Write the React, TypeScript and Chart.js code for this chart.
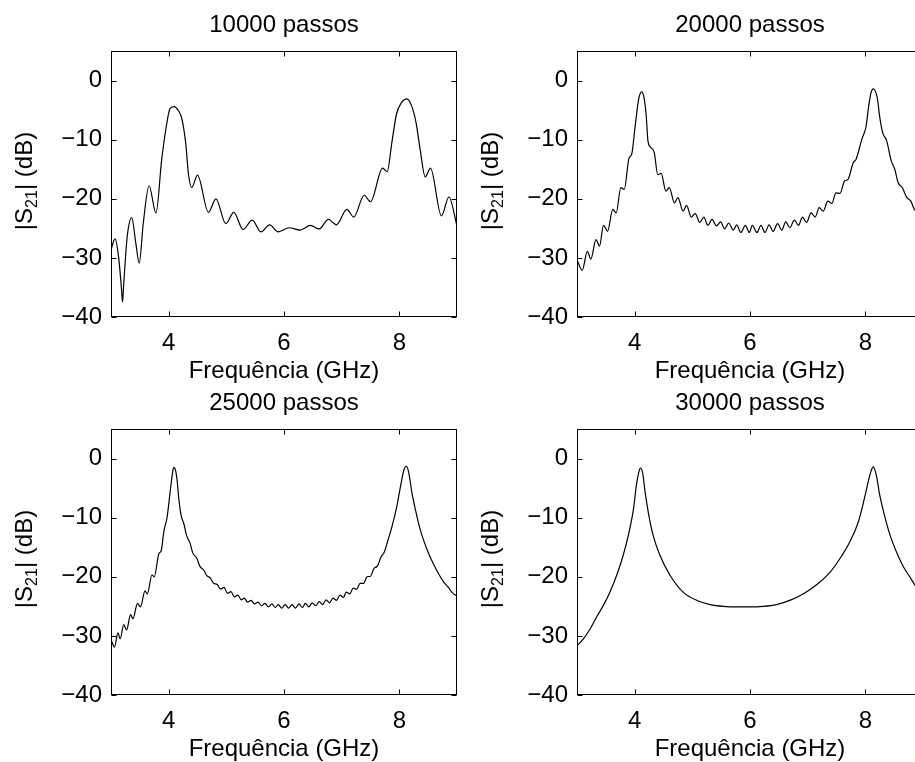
import React, { useEffect, useRef } from 'react';
import { Chart, registerables } from 'chart.js';

Chart.register(...registerables);

// ---------- data ----------
const X_TICKS = [4, 6, 8];
const Y_TICKS = [0, -10, -20, -30, -40];
const X_MIN = 3;
const X_MAX = 9;
const Y_MIN = -40;
const Y_MAX = 5;
const X_LABEL = 'Frequência (GHz)';
const Y_LABEL_MAIN = '|S';
const Y_LABEL_SUB = '21';
const Y_LABEL_END = '| (dB)';
const TITLES = ['10000 passos', '20000 passos', '25000 passos', '30000 passos'];

const X_10000 = [3.00, 3.07, 3.13, 3.18, 3.20, 3.22, 3.28, 3.36, 3.43, 3.49, 3.56, 3.66, 3.78, 3.88, 3.97, 4.02, 4.09, 4.17, 4.23, 4.30, 4.34, 4.40, 4.50, 4.69, 4.82, 4.99, 5.13, 5.29, 5.45, 5.60, 5.75, 5.90, 6.09, 6.28, 6.46, 6.61, 6.77, 6.91, 7.09, 7.21, 7.39, 7.50, 7.71, 7.79, 7.87, 7.95, 8.04, 8.13, 8.21, 8.29, 8.36, 8.45, 8.54, 8.73, 8.86, 9.00];
const Y_10000 = [-28.6, -26.8, -29.7, -35.0, -37.5, -34.5, -26.5, -23.2, -27.5, -30.9, -24.1, -17.8, -22.4, -13.3, -7.1, -4.8, -4.4, -5.1, -6.5, -11.0, -15.6, -18.1, -16.0, -22.3, -20.0, -24.2, -22.3, -25.2, -23.6, -25.6, -24.4, -25.6, -24.9, -25.3, -24.5, -25.1, -23.5, -24.4, -21.8, -23.1, -19.4, -20.5, -14.8, -15.4, -10.5, -5.7, -3.7, -3.1, -4.2, -7.1, -11.6, -16.3, -14.8, -22.9, -19.7, -24.6];

const X_20000 = [3.00, 3.09, 3.18, 3.24, 3.33, 3.39, 3.46, 3.53, 3.62, 3.68, 3.76, 3.82, 3.90, 3.95, 4.01, 4.07, 4.12, 4.16, 4.20, 4.23, 4.27, 4.34, 4.40, 4.46, 4.54, 4.60, 4.69, 4.75, 4.84, 4.90, 4.98, 5.05, 5.13, 5.20, 5.27, 5.34, 5.42, 5.49, 5.56, 5.63, 5.71, 5.77, 5.84, 5.92, 5.99, 6.04, 6.12, 6.19, 6.26, 6.33, 6.40, 6.48, 6.55, 6.62, 6.69, 6.77, 6.84, 6.91, 6.98, 7.06, 7.13, 7.20, 7.27, 7.35, 7.42, 7.49, 7.56, 7.64, 7.70, 7.79, 7.84, 7.94, 8.01, 8.06, 8.10, 8.14, 8.21, 8.25, 8.30, 8.37, 8.45, 8.51, 8.57, 8.64, 8.72, 8.79, 8.85, 8.92, 9.00];
const Y_20000 = [-30.3, -32.1, -28.9, -30.2, -26.9, -28.0, -24.5, -25.5, -21.8, -22.4, -18.1, -18.4, -13.2, -12.4, -7.6, -3.1, -1.9, -2.8, -5.9, -10.2, -11.2, -12.2, -15.9, -15.7, -18.7, -18.1, -20.7, -19.8, -22.1, -21.1, -23.1, -22.5, -24.0, -23.1, -24.5, -23.5, -24.6, -23.9, -25.1, -24.1, -25.3, -24.4, -25.7, -24.5, -25.7, -24.5, -25.7, -24.5, -25.7, -24.4, -25.5, -24.2, -25.3, -23.9, -24.9, -23.6, -24.5, -23.1, -24.0, -22.4, -23.1, -21.5, -22.1, -20.4, -20.8, -19.0, -19.1, -17.0, -16.7, -13.9, -13.3, -9.9, -7.9, -4.2, -2.0, -1.4, -3.1, -6.2, -8.8, -10.2, -13.6, -15.0, -17.3, -18.1, -19.8, -20.4, -21.8, -22.3, -23.5];

const X_25000 = [3.00, 3.06, 3.12, 3.16, 3.22, 3.27, 3.34, 3.38, 3.46, 3.51, 3.59, 3.63, 3.71, 3.75, 3.83, 3.87, 3.92, 3.97, 4.03, 4.07, 4.09, 4.11, 4.14, 4.18, 4.22, 4.26, 4.31, 4.37, 4.42, 4.49, 4.54, 4.61, 4.66, 4.72, 4.78, 4.84, 4.90, 4.96, 5.02, 5.08, 5.14, 5.20, 5.26, 5.31, 5.37, 5.43, 5.49, 5.55, 5.61, 5.67, 5.73, 5.79, 5.85, 5.90, 5.96, 6.02, 6.08, 6.14, 6.20, 6.26, 6.32, 6.37, 6.43, 6.49, 6.55, 6.61, 6.67, 6.73, 6.79, 6.85, 6.91, 6.97, 7.03, 7.08, 7.14, 7.20, 7.26, 7.32, 7.38, 7.44, 7.50, 7.56, 7.62, 7.68, 7.74, 7.80, 7.87, 7.96, 8.03, 8.08, 8.12, 8.16, 8.22, 8.28, 8.35, 8.42, 8.51, 8.59, 8.68, 8.77, 8.85, 8.91, 8.97, 9.00];
const Y_25000 = [-30.6, -31.9, -29.5, -30.5, -28.1, -29.0, -26.4, -27.1, -24.5, -25.1, -22.4, -22.9, -19.7, -20.0, -16.1, -15.6, -12.1, -10.1, -5.3, -2.2, -1.5, -1.7, -3.1, -7.2, -9.8, -10.9, -13.0, -14.3, -16.0, -16.9, -18.2, -18.9, -19.8, -20.2, -21.1, -21.3, -22.1, -21.8, -22.8, -22.5, -23.4, -23.1, -23.9, -23.6, -24.3, -24.0, -24.6, -24.3, -24.9, -24.5, -25.1, -24.6, -25.2, -24.7, -25.3, -24.7, -25.3, -24.7, -25.3, -24.6, -25.2, -24.5, -25.1, -24.4, -24.9, -24.2, -24.7, -23.9, -24.4, -23.6, -24.0, -23.1, -23.5, -22.6, -22.9, -21.9, -22.1, -21.1, -21.1, -20.0, -19.9, -18.6, -18.2, -16.7, -15.8, -13.9, -11.6, -7.9, -4.2, -1.9, -1.3, -2.2, -5.9, -8.7, -11.6, -13.8, -16.1, -17.8, -19.5, -20.9, -21.8, -22.6, -23.1, -23.2];

const X_30000 = [3.00, 3.11, 3.23, 3.34, 3.46, 3.57, 3.69, 3.80, 3.89, 3.98, 4.03, 4.08, 4.10, 4.14, 4.18, 4.24, 4.32, 4.44, 4.61, 4.84, 5.08, 5.31, 5.54, 5.77, 6.00, 6.23, 6.46, 6.69, 6.92, 7.16, 7.39, 7.56, 7.73, 7.88, 7.99, 8.07, 8.11, 8.14, 8.19, 8.25, 8.34, 8.43, 8.54, 8.66, 8.77, 8.86, 9.00];
const Y_30000 = [-31.7, -30.5, -28.8, -26.8, -24.8, -22.6, -19.7, -16.4, -13.0, -8.5, -4.5, -2.0, -1.6, -2.5, -5.6, -9.3, -13.0, -16.4, -19.7, -22.6, -24.0, -24.7, -25.0, -25.1, -25.1, -25.0, -24.7, -24.0, -22.9, -21.3, -19.2, -16.9, -14.1, -10.7, -6.5, -3.1, -1.8, -1.4, -2.8, -6.2, -9.9, -13.0, -15.8, -18.3, -20.0, -21.4, -23.0];

const SERIES_X = [X_10000, X_20000, X_25000, X_30000];
const SERIES_Y = [Y_10000, Y_20000, Y_25000, Y_30000];

// ---------- layout / style ----------
const FONT_FAMILY = "'Liberation Sans', Arial, Helvetica, sans-serif";
const FONT_SIZE = 24;
const SUB_SIZE = 16;
const PLOT_W = 346;
const PLOT_H = 266;
const M_LEFT = 111;
const M_TOP = 51;
const M_RIGHT = 10;
const M_BOTTOM = 72;
const CANVAS_W = M_LEFT + PLOT_W + M_RIGHT;
const CANVAS_H = M_TOP + PLOT_H + M_BOTTOM;
const PANEL_LEFT = [111, 577, 111, 577];
const PANEL_TOP = [51, 51, 429, 429];
const TICK_LEN = 5;

function fmt(v: number | string) {
  const n = Number(v);
  return n < 0 ? '\u2212' + Math.abs(n) : String(n);
}

function Panel({ idx }: { idx: number }) {
  const ref = useRef<HTMLCanvasElement>(null);
  useEffect(() => {
    const canvas = ref.current!;
    const title = TITLES[idx];
    const xs = SERIES_X[idx];
    const ys = SERIES_Y[idx];
    const decor = {
      id: 'decor',
      afterDraw(chart: any) {
        const { ctx, chartArea: a, scales } = chart;
        const sx = scales.x;
        const sy = scales.y;
        ctx.save();
        ctx.strokeStyle = '#000';
        ctx.lineWidth = 1;
        const L = Math.round(a.left) + 0.5;
        const R = Math.round(a.right) - 0.5;
        const T = Math.round(a.top) + 0.5;
        const B = Math.round(a.bottom) - 0.5;
        ctx.strokeRect(L, T, R - L, B - T);
        ctx.beginPath();
        X_TICKS.forEach((v) => {
          const p = Math.round(sx.getPixelForValue(v)) + 0.5;
          ctx.moveTo(p, B);
          ctx.lineTo(p, B - TICK_LEN);
          ctx.moveTo(p, T);
          ctx.lineTo(p, T + TICK_LEN);
        });
        Y_TICKS.forEach((v) => {
          const p = Math.round(sy.getPixelForValue(v)) + 0.5;
          ctx.moveTo(L, p);
          ctx.lineTo(L + TICK_LEN, p);
          ctx.moveTo(R, p);
          ctx.lineTo(R - TICK_LEN, p);
        });
        ctx.stroke();

        ctx.fillStyle = '#000';
        ctx.font = `${FONT_SIZE}px ${FONT_FAMILY}`;
        ctx.textAlign = 'center';
        ctx.textBaseline = 'alphabetic';
        const cx = (a.left + a.right) / 2;
        ctx.fillText(title, cx, a.top - 19.5);
        ctx.fillText(X_LABEL, cx, a.bottom + 61);

        // y label with subscript
        ctx.translate(a.left - 79, (a.top + a.bottom) / 2 - 3);
        ctx.rotate(-Math.PI / 2);
        ctx.textAlign = 'left';
        ctx.font = `${FONT_SIZE}px ${FONT_FAMILY}`;
        const w1 = ctx.measureText(Y_LABEL_MAIN).width;
        const w3 = ctx.measureText(Y_LABEL_END).width;
        ctx.font = `${SUB_SIZE}px ${FONT_FAMILY}`;
        const w2 = ctx.measureText(Y_LABEL_SUB).width;
        const start = -(w1 + w2 + w3) / 2;
        ctx.font = `${FONT_SIZE}px ${FONT_FAMILY}`;
        ctx.fillText(Y_LABEL_MAIN, start, 0);
        ctx.font = `${SUB_SIZE}px ${FONT_FAMILY}`;
        ctx.fillText(Y_LABEL_SUB, start + w1, 5);
        ctx.font = `${FONT_SIZE}px ${FONT_FAMILY}`;
        ctx.fillText(Y_LABEL_END, start + w1 + w2, 0);
        ctx.restore();
      },
    };
    const tickFont = { family: FONT_FAMILY, size: FONT_SIZE };
    const chart = new Chart(canvas, {
      type: 'line',
      data: {
        datasets: [
          {
            data: xs.map((x, i) => ({ x, y: ys[i] })),
            borderColor: '#000',
            borderWidth: 1.2,
            pointRadius: 0,
            fill: false,
            cubicInterpolationMode: 'monotone',
          },
        ],
      },
      options: {
        animation: false,
        responsive: false,
        devicePixelRatio: 1,
        events: [],
        layout: { padding: { left: 0, top: M_TOP, right: M_RIGHT, bottom: 0 } },
        plugins: {
          legend: { display: false },
          tooltip: { enabled: false },
          title: { display: false },
        },
        scales: {
          x: {
            type: 'linear',
            min: X_MIN,
            max: X_MAX,
            grid: { display: false, drawTicks: false },
            border: { display: false },
            ticks: {
              font: tickFont,
              color: '#000',
              padding: 12,
              maxRotation: 0,
              autoSkip: false,
              callback: (v: any) => fmt(v),
            },
            afterBuildTicks: (s: any) => {
              s.ticks = X_TICKS.map((v) => ({ value: v }));
            },
            afterFit: (s: any) => {
              s.height = M_BOTTOM;
            },
          },
          y: {
            type: 'linear',
            min: Y_MIN,
            max: Y_MAX,
            grid: { display: false, drawTicks: false },
            border: { display: false },
            ticks: {
              font: tickFont,
              color: '#000',
              padding: 9,
              autoSkip: false,
              callback: (v: any) => fmt(v),
            },
            afterBuildTicks: (s: any) => {
              s.ticks = Y_TICKS.map((v) => ({ value: v }));
            },
            afterFit: (s: any) => {
              s.width = M_LEFT;
            },
          },
        },
      } as any,
      plugins: [decor],
    });
    return () => chart.destroy();
  }, [idx]);
  return (
    <canvas
      ref={ref}
      width={CANVAS_W}
      height={CANVAS_H}
      style={{
        position: 'absolute',
        left: PANEL_LEFT[idx] - M_LEFT,
        top: PANEL_TOP[idx] - M_TOP,
        width: CANVAS_W,
        height: CANVAS_H,
      }}
    />
  );
}

export default function App() {
  return (
    <div
      style={{
        position: 'fixed',
        left: 0,
        top: 0,
        width: 915,
        height: 762,
        overflow: 'hidden',
        background: '#fff',
      }}
    >
      {[0, 1, 2, 3].map((i) => (
        <Panel key={i} idx={i} />
      ))}
    </div>
  );
}
